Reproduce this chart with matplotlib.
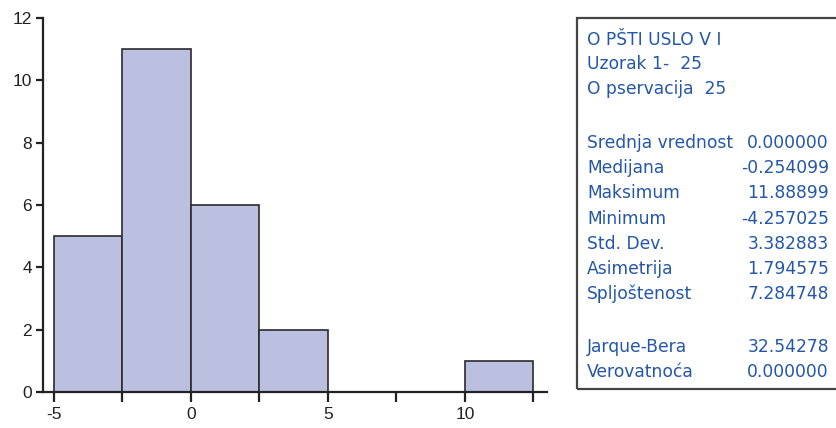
import matplotlib
matplotlib.use("Agg")
import matplotlib.pyplot as plt
from matplotlib.patches import Rectangle

bin_edges = [-5, -2.5, 0, 2.5, 5, 7.5, 10, 12.5]
counts = [5, 11, 6, 2, 0, 0, 1]
y_ticks = [0, 2, 4, 6, 8, 10, 12]
x_ticks = [-5, 0, 5, 10]
x_minor = [-2.5, 2.5, 7.5, 12.5]

header_lines = ["O PŠTI USLO V I", "Uzorak 1-  25", "O pservacija  25"]
stat_names = ["Srednja vrednost", "Medijana", "Maksimum", "Minimum", "Std. Dev.",
              "Asimetrija", "Spljoštenost"]
stat_values = ["0.000000", "-0.254099", "11.88899", "-4.257025", "3.382883",
               "1.794575", "7.284748"]
test_names = ["Jarque-Bera", "Verovatnoća"]
test_values = ["32.54278", "0.000000"]

W, H = 837, 428
plt.rcParams['font.family'] = ['Liberation Sans', 'DejaVu Sans']
plt.rcParams['axes.unicode_minus'] = False
fig = plt.figure(figsize=(W / 100, H / 100), dpi=100)

ax = fig.add_axes([43 / W, 36 / H, (547 - 43) / W, (392 - 18) / H])
widths = [bin_edges[i + 1] - bin_edges[i] for i in range(len(counts))]
ax.bar(bin_edges[:-1], counts, width=widths, align='edge',
       color='#BBBFE0', edgecolor='#2b2b2b', linewidth=1.2)
ax.set_xlim(-5.4, 13.0)
ax.set_ylim(0, 12)
ax.set_yticks(y_ticks)
ax.set_xticks(x_ticks)
ax.set_xticks(x_minor, minor=True)
for s in ['top', 'right']:
    ax.spines[s].set_visible(False)
for s in ['left', 'bottom']:
    ax.spines[s].set_linewidth(1.6)
    ax.spines[s].set_color('#222222')
ax.tick_params(axis='y', direction='out', length=5, width=1.6, labelsize=12.5,
               colors='#222222', pad=3)
ax.tick_params(axis='x', which='both', direction='out', length=7, width=1.6,
               labelsize=12.5, colors='#222222', pad=4)

# stats box
box = Rectangle((577 / W, (H - 389) / H), (W + 10 - 577) / W, (389 - 18) / H,
                transform=fig.transFigure, fill=False, edgecolor='#444444',
                linewidth=1.6, clip_on=False)
fig.patches.append(box)

tc = '#2457A8'
fs = 12.3
fam = ['DejaVu Sans']
xl = 587 / W
xr = 829 / W
ys = [40, 64, 89]
for t, y in zip(header_lines, ys):
    fig.text(xl, 1 - y / H, t, color=tc, fontsize=fs, va='center', ha='left', family=fam)
y0 = 143
step = 25.2
for i, (n, v) in enumerate(zip(stat_names, stat_values)):
    y = y0 + i * step
    fig.text(xl, 1 - y / H, n, color=tc, fontsize=fs, va='center', ha='left', family=fam)
    fig.text(xr, 1 - y / H, v, color=tc, fontsize=fs, va='center', ha='right', family=fam)
for i, (n, v) in enumerate(zip(test_names, test_values)):
    y = 347 + i * step
    fig.text(xl, 1 - y / H, n, color=tc, fontsize=fs, va='center', ha='left', family=fam)
    fig.text(xr, 1 - y / H, v, color=tc, fontsize=fs, va='center', ha='right', family=fam)

fig.savefig("out.png", dpi=100)
